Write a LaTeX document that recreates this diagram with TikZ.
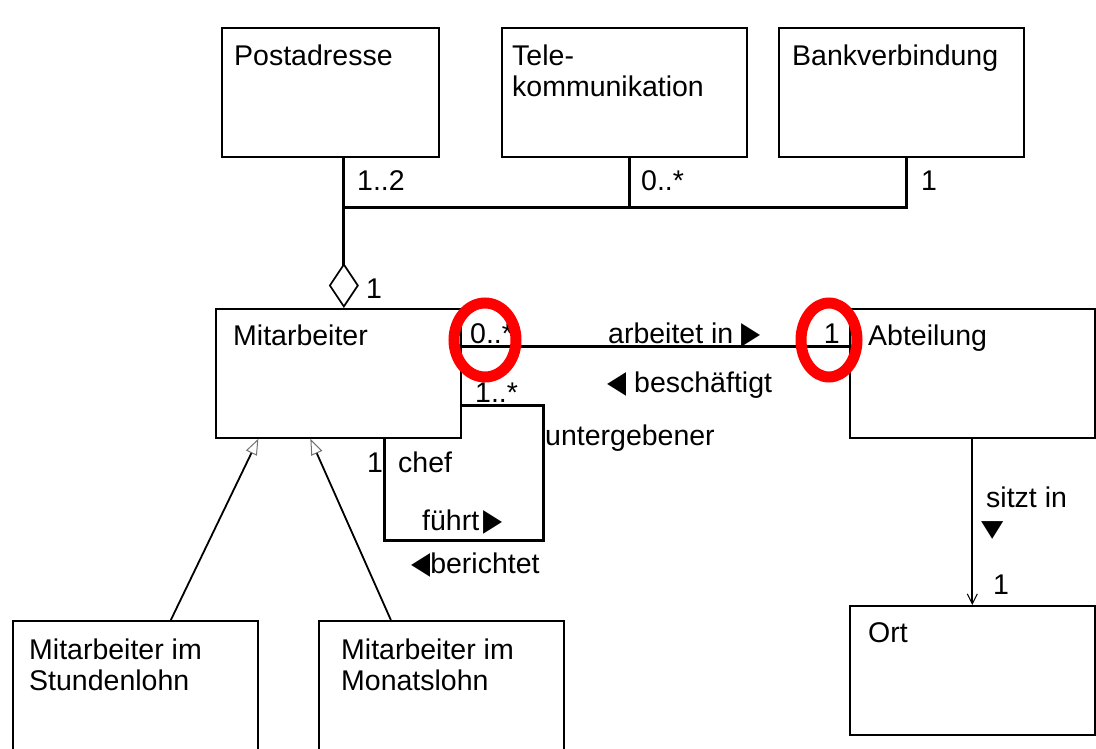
\documentclass[tikz,border=0pt]{standalone}
\usepackage{fontspec}
\usepackage{graphicx}
\setmainfont{Liberation Sans}
\newfontfamily\symfont{DejaVu Sans}
\usetikzlibrary{positioning,arrows.meta}

% reading-direction triangles
\newcommand{\rtri}{\scalebox{0.8}[1]{\symfont\fontsize{31}{31}\selectfont ▶}}
\newcommand{\ltri}{\scalebox{0.8}[1]{\symfont\fontsize{31}{31}\selectfont ◀}}
\newcommand{\dtri}{\scalebox{1}[0.8]{\symfont\fontsize{29}{29}\selectfont ▼}}

\begin{document}
\begin{tikzpicture}[x=1pt, y=-1pt,
  every node/.style={font=\fontsize{28.5}{31}\selectfont},
  class/.style={draw, line width=1.7pt, anchor=north west, inner sep=0pt,
    minimum width=245pt, minimum height=129pt},
  cname/.style={anchor=north west, inner sep=0pt, align=left},
  mult/.style={anchor=base west, inner sep=0pt},
  link/.style={line width=3pt},
  thinlink/.style={line width=1.8pt},
  ring/.style={draw=red, line width=11pt}]

\useasboundingbox (0,0) rectangle (1096,749);

% classes
\foreach \n/\x/\w in {post/221/217, tele/501/245, bank/778/245}
  \node [class, minimum width=\w] (\n) at (\x,27) {};
\node [class] (mit) at (215,308) {};
\node [class] (abt) at (849,308) {};
\node [class] (ort) at (849,605) {};
\node [class] (stu) at (12,620) {};
\node [class] (mon) at (318,620) {};

% class names
\node [cname, below right=18pt and 13pt of post.north west] {Postadresse};
\node [cname, below right=18pt and 11pt of tele.north west] {Tele-\\kommunikation};
\node [cname, below right=18pt and 14pt of bank.north west] {Bankverbindung};
\node [cname, below right=17pt and 18pt of mit.north west] {Mitarbeiter};
\node [cname, below right=17pt and 19pt of abt.north west] {Abteilung};
\node [cname, below right=17pt and 19pt of ort.north west] {Ort};
\node [cname, below right=19pt and 17pt of stu.north west] {Mitarbeiter im\\Stundenlohn};
\node [cname, below right=19pt and 23pt of mon.north west] {Mitarbeiter im\\Monatslohn};

% aggregation of the contact data
\draw [link] ([xshift=13.5]post.south) -- ++(0,50) coordinate (j1)
  -| ([xshift=5.5]bank.south);
\draw [link] ([xshift=5.5]tele.south) -- ++(0,50);
\draw [link, -{Diamond[open, length=45pt, width=30pt, line width=1.7pt]}]
  (j1) -- (j1 |- mit.north);

\node [mult] at (357,191) {1..2};
\node [mult] at (641,191) {0..*};
\node [mult] at (921,191) {1};
\node [mult] at (366,298) {1};

% arbeitet in / beschaeftigt
\coordinate (a1) at (0,346);
\draw [link] (mit.east |- a1) -- (abt.west |- a1);
\node [mult] (m1) at (470,343) {0..*};
\node [mult, anchor=base east] (m2) at (840,343) {1};
\node [mult] at (608,343) {arbeitet in \rtri};
\node [mult] at (607,392) {\ltri\ beschäftigt};

% chef / untergebener
\coordinate (s1) at (543,405);
\coordinate (s2) at (384,540);
\draw [link] (mit.east |- s1) -- (s1) -- (s1 |- s2) -- (s2) -- (s2 |- mit.south);
\node [mult] at (475,402) {1..*};
\node [mult] at (545,445) {untergebener};
\node [mult] at (367,472) {1};
\node [mult] at (398,472) {chef};
\node [mult] at (422,530) {führt\,\rtri};
\node [mult] at (411,573) {\ltri berichtet};

% generalisation
\draw [thinlink, -{Triangle[open, length=16pt, width=12pt, line width=1pt, color=black!55]}]
  ([xshift=35.5]stu.north) -- ([xshift=-80]mit.south);
\draw [thinlink, -{Triangle[open, length=16pt, width=12pt, line width=1pt, color=black!55]}]
  ([xshift=-50.5]mon.north) -- ([xshift=-28]mit.south);

% sitzt in
\draw [thinlink, -{Straight Barb[length=10pt, width=10pt, line width=1pt]}]
  (abt.south) -- (ort.north);
\node [mult] at (986,507) {sitzt in};
\node [mult] at (981,536) {\dtri};
\node [mult] at (993,594) {1};

% highlighted multiplicities
\draw [ring] (485,340) ellipse [x radius=31pt, y radius=37pt];
\draw [ring] (829,340) ellipse [x radius=28pt, y radius=37pt];

\end{tikzpicture}
\end{document}
